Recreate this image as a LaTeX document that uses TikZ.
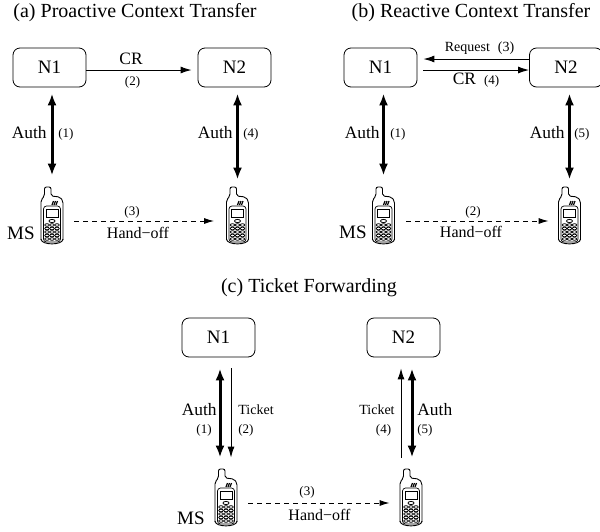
\documentclass[tikz,border=0pt]{standalone}
\usepackage{fontspec}
\setmainfont{Liberation Serif}
\usetikzlibrary{arrows.meta}

\tikzset{
handset/.pic={
\draw[line width=0.45pt,rounded corners=1pt] (-11,24) -- (-11,-16) -- (-7.5,-20) -- (-7.5,-29) -- (-1,-29) -- (-1,-20) -- (8,-19) -- (11,-15) -- (11,24);
\draw[line width=0.45pt] (-11,23) .. controls (-11,29.5) and (11,29.5) .. (11,23);
\draw[line width=0.35pt,rounded corners=1.5pt] (-8.5,-10) rectangle (8.5,26);
\draw[line width=0.45pt] (-6,-7) rectangle (6,1);
\foreach \i in {0,2,4} {
\draw[line width=0.6pt] (\i,-11) -- (\i+1.5,-15);
}
\draw[line width=0.4pt] (0,5) ellipse (3 and 1.6);
\foreach \r in {9,12.5,16,19.5,23} {
\foreach \c in {-5,0,5} {
\draw[line width=0.4pt] (\c,\r) ellipse (2.2 and 1.3);
}
}
}
}

\begin{document}
\begin{tikzpicture}[x=0.5pt,y=-0.5pt,
box/.style={draw,line width=0.4pt,rounded corners=3.5pt,minimum width=36.5pt,minimum height=19.5pt,inner sep=0pt,font=\fontsize{9.5}{11}\selectfont},
ms/.style={inner sep=0pt,minimum width=11pt,minimum height=29pt},
titletext/.style={inner sep=0pt,font=\fontsize{10}{12}\selectfont},
authtext/.style={inner sep=0pt,font=\fontsize{8.7}{10}\selectfont},
mstext/.style={inner sep=0pt,font=\fontsize{9.5}{11}\selectfont},
hotext/.style={inner sep=0pt,font=\fontsize{8}{9.5}\selectfont},
msgtext/.style={inner sep=0pt,font=\fontsize{7}{8.5}\selectfont},
numtext/.style={inner sep=0pt,font=\fontsize{6.5}{8}\selectfont},
auth/.style={line width=1.5pt,{Latex[length=6pt,width=4.5pt]}-{Latex[length=6pt,width=4.5pt]}},
msg/.style={line width=0.5pt,-{Latex[length=5.5pt,width=3.5pt]}},
handoff/.style={line width=0.5pt,dash pattern=on 2.5pt off 2pt,-{Latex[length=5pt,width=3pt]}}]
\useasboundingbox (0,0) rectangle (600,531);

% (a) proactive
\node[titletext] (ta) at (135,13) {(a) Proactive Context Transfer};
\node[box] (n1a) at (49.5,67.5) {N1};
\node[box] (n2a) at (234.5,67.5) {N2};
\node[ms] (pa) at (52,216) {};
\node[ms] (qa) at (237.5,216) {};
\pic at (pa) {handset};
\pic at (qa) {handset};
\draw[msg,shorten >=3pt] ([yshift=-1.25pt]n1a.east) -- ([yshift=-1.25pt]n2a.west);
\node[authtext] (cra) at (131,59) {CR};
\node[numtext] (c2a) at (132.5,82) {(2)};
\draw[auth,shorten <=5.5pt,shorten >=3pt] (pa.north) -- (pa.north |- n1a.south);
\draw[auth,shorten <=3.5pt,shorten >=3pt] (qa.north) -- (qa.north |- n2a.south);
\node[authtext,anchor=east] (aua) at (47,133) {Auth};
\node[numtext,anchor=west] (c1a) at (58,134) {(1)};
\node[authtext,anchor=east] (aub) at (233,133) {Auth};
\node[numtext,anchor=west] (c4a) at (243,134) {(4)};
\node[mstext,anchor=east] (msa) at (35,233) {MS};
\draw[handoff,shorten <=5.5pt,shorten >=6pt] ([yshift=-2.5pt]pa.east) -- ([yshift=-2.5pt]qa.west);
\node[numtext] (c3a) at (132,212) {(3)};
\node[hotext] (hoa) at (138,233) {Hand−off};

% (b) reactive
\node[titletext] (tb) at (471,13) {(b) Reactive Context Transfer};
\node[box] (n1b) at (380.5,67.5) {N1};
\node[box] (n2b) at (566,67.5) {N2};
\node[ms] (pb) at (383.5,216) {};
\node[ms] (qb) at (569.5,216) {};
\pic at (pb) {handset};
\pic at (qb) {handset};
\draw[msg,shorten >=3pt] ([yshift=4.25pt]n2b.west) -- ([yshift=4.25pt]n1b.east);
\draw[msg,shorten <=3pt] ([yshift=-1.25pt]n1b.east) -- ([yshift=-1.25pt]n2b.west);
\node[msgtext] (rqb) at (479.5,48) {Request\hspace{4pt}(3)};
\node[authtext] (crb) at (476,80) {CR\hspace{4pt}{\fontsize{6.5}{8}\selectfont(4)}};
\draw[auth,shorten <=5.5pt,shorten >=3pt] (pb.north) -- (pb.north |- n1b.south);
\draw[auth,shorten <=3.5pt,shorten >=3pt] (qb.north) -- (qb.north |- n2b.south);
\node[authtext,anchor=east] (auc) at (380,133) {Auth};
\node[numtext,anchor=west] (c1b) at (390,134) {(1)};
\node[authtext,anchor=east] (aud) at (565,133) {Auth};
\node[numtext,anchor=west] (c5b) at (574,134) {(5)};
\node[mstext,anchor=east] (msb) at (367,232) {MS};
\draw[handoff,shorten <=5.75pt,shorten >=4.75pt] ([yshift=-2.5pt]pb.east) -- ([yshift=-2.5pt]qb.west);
\node[numtext] (c2b) at (473,212) {(2)};
\node[hotext] (hob) at (471,232) {Hand−off};

% (c) ticket forwarding
\node[titletext] (tc) at (309,288) {(c) Ticket Forwarding};
\node[box] (n1c) at (218.5,337.5) {N1};
\node[box] (n2c) at (403.5,337.5) {N2};
\node[ms] (pc) at (226,498) {};
\node[ms] (qc) at (411,498) {};
\pic at (pc) {handset};
\pic at (qc) {handset};
\draw[auth,shorten <=5.5pt,shorten >=5.5pt] ([xshift=0.75pt]n1c.south) -- ([xshift=0.75pt]n1c.south |- pc.north);
\draw[msg,shorten <=5.5pt,shorten >=5.5pt] ([xshift=6.25pt]n1c.south) -- ([xshift=6.25pt]n1c.south |- pc.north);
\draw[msg,shorten <=5.5pt,shorten >=5.5pt] ([xshift=-1.25pt]n2c.south |- qc.north) -- ([xshift=-1.25pt]n2c.south);
\draw[auth,shorten <=5.5pt,shorten >=5.5pt] ([xshift=4.25pt]n2c.south) -- ([xshift=4.25pt]n2c.south |- qc.north);
\node[authtext,anchor=east] (aue) at (217,410) {Auth};
\node[numtext] (c1c) at (204,430) {(1)};
\node[msgtext,anchor=west] (tkc) at (238,410) {Ticket};
\node[numtext,anchor=west] (c2c) at (238,430) {(2)};
\node[msgtext,anchor=east] (tkd) at (395,410) {Ticket};
\node[numtext] (c4c) at (383.5,430) {(4)};
\node[authtext,anchor=west] (auf) at (417,410) {Auth};
\node[numtext,anchor=west] (c5c) at (417,430) {(5)};
\node[mstext,anchor=east] (msc) at (205,518) {MS};
\draw[handoff,shorten <=5.5pt,shorten >=5pt] ([yshift=-2.5pt]pc.east) -- ([yshift=-2.5pt]qc.west);
\node[numtext] (c3c) at (307,492) {(3)};
\node[hotext] (hoc) at (319.5,515) {Hand−off};
\end{tikzpicture}
\end{document}
